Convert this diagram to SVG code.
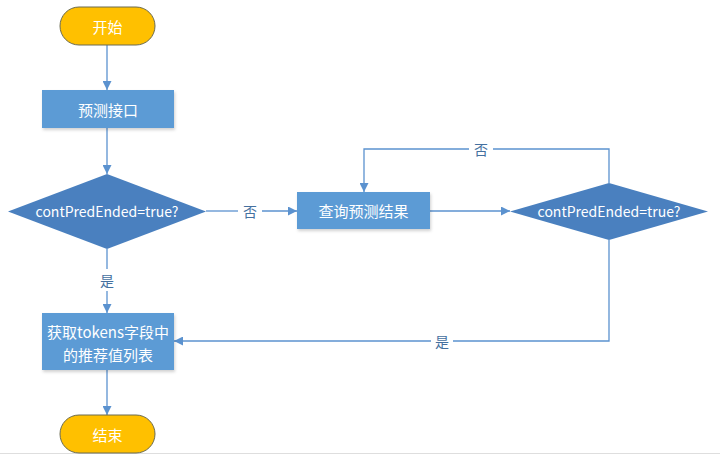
<svg xmlns="http://www.w3.org/2000/svg" width="720" height="459" viewBox="0 0 720 459">
<defs>
<style>
.term{fill:#FFC000;stroke:#6b6b50;stroke-width:1}
.proc{fill:#5B9BD5}
.dec{fill:#4A80BF}
.t{font-family:"Noto Sans CJK SC","Noto Sans",sans-serif;font-size:15px;fill:#ffffff;text-anchor:middle;dominant-baseline:central}
.d{font-size:14px}
.lbl{font-family:"Noto Sans CJK SC","Noto Sans",sans-serif;font-size:14px;fill:#44709f;text-anchor:middle;dominant-baseline:central}
.c{fill:none;stroke:#5B92CF;stroke-width:1.3}
</style>
<marker id="ah" viewBox="0 0 10 10" refX="10" refY="5" markerWidth="9" markerHeight="9" markerUnits="userSpaceOnUse" orient="auto">
<path d="M0,0 L10,5 L0,10 z" fill="#5B92CF"/>
</marker>
<filter id="sh" x="-10%" y="-10%" width="130%" height="140%">
<feDropShadow dx="1" dy="2" stdDeviation="1.5" flood-color="#000" flood-opacity="0.18"/>
</filter>
</defs>
<rect x="0" y="0" width="720" height="459" fill="#ffffff"/>
<line x1="0" y1="453.5" x2="720" y2="453.5" stroke="#dedede" stroke-width="1"/>
<g id="connectors">
<line class="c" x1="107" y1="45" x2="107" y2="90" marker-end="url(#ah)"/>
<line class="c" x1="107" y1="128" x2="107" y2="174" marker-end="url(#ah)"/>
<line class="c" x1="206" y1="211" x2="238" y2="211"/>
<line class="c" x1="262" y1="211" x2="297" y2="211" marker-end="url(#ah)"/>
<line class="c" x1="430" y1="211" x2="510" y2="211" marker-end="url(#ah)"/>
<polyline class="c" points="609,183 609,149 493,149"/>
<polyline class="c" points="469,149 364,149 364,192" marker-end="url(#ah)"/>
<polyline class="c" points="609,240 609,341 453,341"/>
<line class="c" x1="431" y1="341" x2="174" y2="341" marker-end="url(#ah)"/>
<line class="c" x1="107" y1="249" x2="107" y2="269"/>
<line class="c" x1="107" y1="291" x2="107" y2="313" marker-end="url(#ah)"/>
<line class="c" x1="107" y1="370" x2="107" y2="415" marker-end="url(#ah)"/>
<text class="lbl" x="250" y="211">否</text>
<text class="lbl" x="481" y="149">否</text>
<text class="lbl" x="442" y="341">是</text>
<text class="lbl" x="107" y="280">是</text>
</g>
<g id="start">
<rect class="term" x="60" y="7" width="95" height="38" rx="19" ry="19"/>
<text class="t" x="107.5" y="26">开始</text>
</g>
<g id="predict">
<rect class="proc" x="42" y="90" width="132" height="38" filter="url(#sh)"/>
<text class="t" x="108" y="109">预测接口</text>
</g>
<g id="decision1">
<polygon class="dec" points="107,174 206,211.5 107,249 8,211.5"/>
<text class="t d" x="107" y="211">contPredEnded=true?</text>
</g>
<g id="query">
<rect class="proc" x="297" y="192" width="133" height="37" filter="url(#sh)"/>
<text class="t" x="363.5" y="210.5">查询预测结果</text>
</g>
<g id="decision2">
<polygon class="dec" points="609,183 708,211.5 609,240 510,211.5"/>
<text class="t d" x="609" y="211">contPredEnded=true?</text>
</g>
<g id="fetch">
<rect class="proc" x="42" y="313" width="132" height="57" filter="url(#sh)"/>
<text class="t" x="108" y="331">获取tokens字段中</text>
<text class="t" x="108" y="354">的推荐值列表</text>
</g>
<g id="end">
<rect class="term" x="60" y="415" width="95" height="38" rx="19" ry="19"/>
<text class="t" x="107.5" y="434">结束</text>
</g>
</svg>
